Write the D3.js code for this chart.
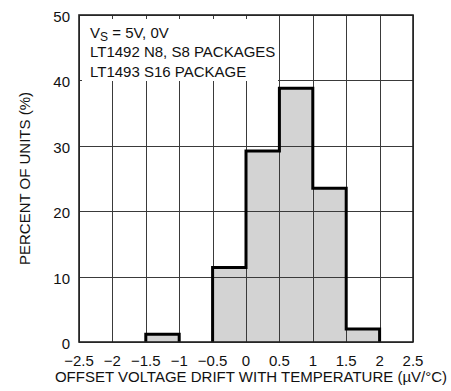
<!DOCTYPE html>
<html>
<head>
<meta charset="utf-8">
<script src="https://cdn.jsdelivr.net/npm/d3@7/dist/d3.min.js"></script>
<style>
  html, body { margin: 0; padding: 0; background: #fff; }
  svg text { font-family: "Liberation Sans Narrow", "Arial Narrow", "Liberation Sans", Arial, sans-serif; fill: #111; }
</style>
</head>
<body>
<svg id="chart" width="451" height="391"></svg>
<script>
// Histogram bins: left edge of each 0.5 µV/°C bin and percent of units in it
const binStarts = [-2.5, -2.0, -1.5, -1.0, -0.5, 0.0, 0.5, 1.0, 1.5, 2.0];
const binWidth = 0.5;
const percents = [0, 0, 1.2, 0, 11.4, 29.2, 38.8, 23.5, 2.0, 0];

const xTicks = [-2.5, -2, -1.5, -1, -0.5, 0, 0.5, 1, 1.5, 2, 2.5];
const yTicks = [0, 10, 20, 30, 40, 50];
const noteLines = ["LT1492 N8, S8 PACKAGES", "LT1493 S16 PACKAGE"];

const margin = { left: 79, top: 15, right: 38, bottom: 49 };
const W = 451, H = 391;
const svg = d3.select("#chart");

const x = d3.scaleLinear().domain([-2.5, 2.5]).range([margin.left, W - margin.right]);
const y = d3.scaleLinear().domain([0, 50]).range([H - margin.bottom, margin.top]);

const fmt = v => String(v).replace("-", "\u2212");

// bar fills
svg.append("g").selectAll("rect")
  .data(binStarts.map((s, i) => ({ s, v: percents[i] })).filter(d => d.v > 0))
  .join("rect")
  .attr("x", d => x(d.s))
  .attr("y", d => y(d.v))
  .attr("width", d => x(d.s + binWidth) - x(d.s))
  .attr("height", d => y(0) - y(d.v))
  .attr("fill", "#d3d3d3");

// grid
const grid = svg.append("g").attr("stroke", "#3a3a3a").attr("stroke-width", 1).attr("shape-rendering", "crispEdges");
grid.selectAll("line.v").data(xTicks).join("line")
  .attr("x1", d => Math.round(x(d)) + 0.5).attr("x2", d => Math.round(x(d)) + 0.5)
  .attr("y1", y(50)).attr("y2", y(0));
grid.selectAll("line.h").data(yTicks).join("line")
  .attr("y1", d => Math.round(y(d)) + 0.5).attr("y2", d => Math.round(y(d)) + 0.5)
  .attr("x1", x(-2.5)).attr("x2", x(2.5));

// histogram outline: one step path per run of non-empty bins
const runs = [];
let cur = null;
binStarts.forEach((s, i) => {
  if (percents[i] > 0) {
    if (!cur) { cur = [[s, 0]]; runs.push(cur); }
    cur.push([s, percents[i]], [s + binWidth, percents[i]]);
  } else if (cur) {
    cur.push([cur[cur.length - 1][0], 0]);
    cur = null;
  }
});
if (cur) cur.push([cur[cur.length - 1][0], 0]);

const line = d3.line().x(d => x(d[0])).y(d => y(d[1]));
svg.append("g").selectAll("path").data(runs).join("path")
  .attr("d", line)
  .attr("fill", "none")
  .attr("stroke", "#000")
  .attr("stroke-width", 3)
  .attr("stroke-linejoin", "miter");

// frame
svg.append("rect")
  .attr("x", x(-2.5)).attr("y", y(50))
  .attr("width", x(2.5) - x(-2.5)).attr("height", y(0) - y(50))
  .attr("fill", "none").attr("stroke", "#222").attr("stroke-width", 1.6);

// note box
svg.append("rect")
  .attr("x", x(-2.5) + 3).attr("y", y(50) + 4)
  .attr("width", 196).attr("height", 62)
  .attr("fill", "#fff");

const note = svg.append("g").attr("font-size", 15);
const t1 = note.append("text").attr("x", 90).attr("y", 38);
t1.append("tspan").text("V");
t1.append("tspan").attr("dy", 3).attr("font-size", 12).text("S");
t1.append("tspan").attr("dy", -3).text(" = 5V, 0V");
note.selectAll("text.l").data(noteLines).join("text")
  .attr("x", 90).attr("y", (d, i) => 57 + i * 20).text(d => d);

// tick labels
svg.append("g").attr("font-size", 15).attr("text-anchor", "end")
  .selectAll("text").data(yTicks).join("text")
  .attr("x", 70).attr("y", d => y(d) + 7).text(d => d);
svg.append("g").attr("font-size", 15).attr("text-anchor", "middle")
  .selectAll("text").data(xTicks).join("text")
  .attr("x", d => x(d)).attr("y", 366).text(fmt);

// axis titles
svg.append("text").attr("font-size", 15).attr("text-anchor", "middle")
  .attr("x", 251).attr("y", 382)
  .text("OFFSET VOLTAGE DRIFT WITH TEMPERATURE (\u00B5V/\u00B0C)");
svg.append("text").attr("font-size", 15).attr("text-anchor", "middle")
  .attr("transform", `translate(30, ${(y(0) + y(50)) / 2}) rotate(-90)`)
  .text("PERCENT OF UNITS (%)");
</script>
</body>
</html>
